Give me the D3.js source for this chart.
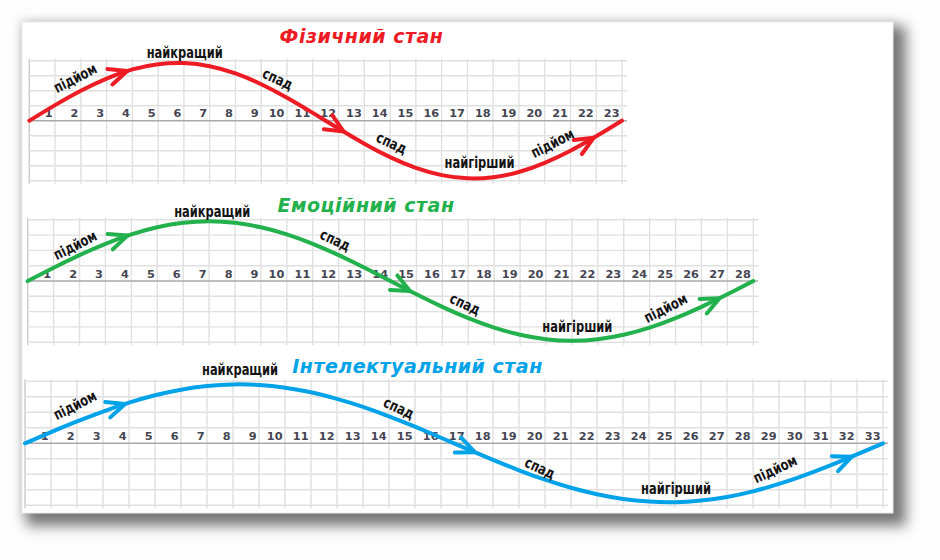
<!DOCTYPE html>
<html>
<head>
<meta charset="utf-8">
<script src="https://cdn.jsdelivr.net/npm/d3@7"></script>
<style>
  html, body { margin: 0; padding: 0; background: #fdfdfd; }
  svg { display: block; }
</style>
</head>
<body>
<svg id="chart" width="940" height="560"></svg>
<script>
// ---------- DATA ----------
const physTitle = "Фізичний стан";
const emoTitle = "Емоційний стан";
const intelTitle = "Інтелектуальний стан";

const physDays = [1,2,3,4,5,6,7,8,9,10,11,12,13,14,15,16,17,18,19,20,21,22,23];
const emoDays = [1,2,3,4,5,6,7,8,9,10,11,12,13,14,15,16,17,18,19,20,21,22,23,24,25,26,27,28];
const intelDays = [1,2,3,4,5,6,7,8,9,10,11,12,13,14,15,16,17,18,19,20,21,22,23,24,25,26,27,28,29,30,31,32,33];

// curve value at day 0..period (grid rows above / below the day axis)
const physValues = [0, 1.04, 2.00, 2.81, 3.42, 3.77, 3.84, 3.63, 3.15, 2.43, 1.53, 0.52,
  -0.52, -1.53, -2.43, -3.15, -3.63, -3.84, -3.77, -3.42, -2.81, -2.00, -1.04, 0];
const emoValues = [0, 0.87, 1.69, 2.43, 3.05, 3.51, 3.80, 3.90, 3.80, 3.51, 3.05, 2.43, 1.69, 0.87,
  0, -0.87, -1.69, -2.43, -3.05, -3.51, -3.80, -3.90, -3.80, -3.51, -3.05, -2.43, -1.69, -0.87, 0];
const intelValues = [0, 0.72, 1.41, 2.05, 2.62, 3.10, 3.46, 3.69, 3.80, 3.76, 3.59, 3.29, 2.87, 2.35, 1.74, 1.07, 0.36,
  -0.36, -1.07, -1.74, -2.35, -2.87, -3.29, -3.59, -3.76, -3.80, -3.69, -3.46, -3.10, -2.62, -2.05, -1.41, -0.72, 0];

// arrow heads (day where the arrow tip sits)
const physArrows = [3.8, 12.2, 21.9];
const emoArrows = [3.85, 14.75, 26.7];
const intelArrows = [3.85, 17.3, 31.8];

// annotations: text, day, value, angle
const physNotes = [
  ["підйом", 1.78, 2.85, -27], ["найкращий", 6.03, 4.5, 0], ["спад", 9.64, 2.78, 25],
  ["спад", 14.06, -1.49, 25], ["найгірший", 17.47, -2.82, 0], ["підйом", 20.3, -1.49, -27]
];
const emoNotes = [
  ["підйом", 1.83, 2.35, -27], ["найкращий", 7.12, 4.5, 0], ["спад", 11.87, 2.68, 25],
  ["спад", 16.88, -1.5, 25], ["найгірший", 21.21, -3.0, 0], ["підйом", 24.61, -1.76, -27]
];
const intelNotes = [
  ["підйом", 1.92, 2.47, -27], ["найкращий", 8.27, 4.73, 0], ["спад", 14.38, 2.28, 25],
  ["спад", 19.81, -1.59, 25], ["найгірший", 25.04, -2.95, 0], ["підйом", 28.85, -1.66, -25]
];

// ---------- LAYOUT ----------
const panels = [
  { title: physTitle, days: physDays, values: physValues, arrows: physArrows, notes: physNotes,
    color: "#ed1c24", x0: 29.3, x1: 622, axisY: 120.7, rowH: 15, titleX: 361.5, titleY: 43 },
  { title: emoTitle, days: emoDays, values: emoValues, arrows: emoArrows, notes: emoNotes,
    color: "#22b14c", x0: 27.7, x1: 753.3, axisY: 281, rowH: 15.3, titleX: 366, titleY: 211.5 },
  { title: intelTitle, days: intelDays, values: intelValues, arrows: intelArrows, notes: intelNotes,
    color: "#00a2e8", x0: 25, x1: 883, axisY: 443.3, rowH: 15.5, titleX: 417.5, titleY: 372.5 }
];

const svg = d3.select("#chart");
const defs = svg.append("defs");
const f = defs.append("filter").attr("id", "shadow").attr("x", "-10%").attr("y", "-10%")
  .attr("width", "120%").attr("height", "120%");
f.append("feGaussianBlur").attr("stdDeviation", 6.5);
const g2 = defs.append("filter").attr("id", "glow").attr("x", "-10%").attr("y", "-10%")
  .attr("width", "120%").attr("height", "120%");
g2.append("feGaussianBlur").attr("stdDeviation", 3);

// card with shadow
svg.append("rect").attr("x", 19).attr("y", 19).attr("width", 877).attr("height", 497)
  .attr("fill", "#d8d8d8").attr("opacity", 0.45).attr("filter", "url(#glow)");
svg.append("rect").attr("x", 26).attr("y", 26).attr("width", 880).attr("height", 500)
  .attr("fill", "#555555").attr("opacity", 0.78).attr("filter", "url(#shadow)");
svg.append("rect").attr("x", 22).attr("y", 22).attr("width", 871).attr("height", 491)
  .attr("fill", "#ffffff").attr("stroke", "#ececec").attr("stroke-width", 1);

panels.forEach(p => {
  const period = p.values.length - 1;
  const x = d3.scaleLinear().domain([0, period]).range([p.x0, p.x1]);
  const y = d3.scaleLinear().domain([-4, 4]).range([p.axisY + 4 * p.rowH, p.axisY - 4 * p.rowH]);
  const g = svg.append("g");

  // grid
  const vDays = [0].concat(p.days);
  g.append("g").selectAll("line").data(vDays).join("line")
    .attr("x1", d => x(d)).attr("x2", d => x(d))
    .attr("y1", y(4) - 2).attr("y2", y(-4) + 3)
    .attr("stroke", d => d === 0 ? "#c9c9c9" : "#e0e0e0").attr("stroke-width", 1.4);
  g.append("g").selectAll("line").data(y.ticks(8).filter(v => v !== 0)).join("line")
    .attr("x1", x(0) - 1).attr("x2", x(period) + 5)
    .attr("y1", d => y(d)).attr("y2", d => y(d))
    .attr("stroke", "#e0e0e0").attr("stroke-width", 1.4);

  // day axis
  const axis = d3.axisTop(x).tickValues(p.days).tickFormat(d3.format("d"))
    .tickSizeInner(0).tickSizeOuter(0).tickPadding(3.5);
  const ag = g.append("g").attr("transform", `translate(0,${y(0)})`).call(axis);
  ag.select(".domain").attr("stroke", "#a9a9a9").attr("stroke-width", 1.6)
    .attr("d", `M${x(0)},0H${x(period) + 5}`);
  ag.selectAll("text").attr("text-anchor", "end").attr("x", -3)
    .attr("fill", "#454552").attr("font-family", "DejaVu Sans").attr("font-weight", "bold")
    .attr("font-size", 11.3);

  // curve
  const line = d3.line().x((d, i) => x(i)).y(d => y(d)).curve(d3.curveNatural);
  const path = g.append("path").datum(p.values).attr("d", line)
    .attr("fill", "none").attr("stroke", p.color).attr("stroke-width", 4)
    .attr("stroke-linecap", "round");
  const node = path.node();
  const total = node.getTotalLength();
  function pointAtX(px) {
    let lo = 0, hi = total;
    for (let k = 0; k < 40; k++) {
      const mid = (lo + hi) / 2;
      if (node.getPointAtLength(mid).x < px) lo = mid; else hi = mid;
    }
    return (lo + hi) / 2;
  }

  // arrows
  p.arrows.forEach(day => {
    const L = pointAtX(x(day));
    const tip = node.getPointAtLength(L);
    const back = node.getPointAtLength(Math.max(0, L - 6));
    const ang = Math.atan2(back.y - tip.y, back.x - tip.x);
    const len = 20, spread = 24 * Math.PI / 180;
    const w1 = [tip.x + len * Math.cos(ang + spread), tip.y + len * Math.sin(ang + spread)];
    const w2 = [tip.x + len * Math.cos(ang - spread), tip.y + len * Math.sin(ang - spread)];
    g.append("path")
      .attr("d", `M${w1[0]},${w1[1]}L${tip.x},${tip.y}L${w2[0]},${w2[1]}`)
      .attr("fill", "none").attr("stroke", p.color).attr("stroke-width", 4)
      .attr("stroke-linecap", "round").attr("stroke-linejoin", "round");
  });

  // annotations
  g.append("g").selectAll("text").data(p.notes).join("text")
    .attr("transform", d => `translate(${x(d[1])},${y(d[2])}) rotate(${d[3]}) scale(0.85,1)`)
    .attr("text-anchor", "middle").attr("dy", "0.35em")
    .attr("font-family", "DejaVu Sans Condensed, DejaVu Sans").attr("font-weight", "bold")
    .attr("font-size", 15)
    .attr("fill", "#141414").text(d => d[0]);

  // title
  svg.append("text").attr("x", p.titleX).attr("y", p.titleY).attr("text-anchor", "middle")
    .attr("font-family", "DejaVu Sans").attr("font-weight", "bold").attr("font-style", "italic")
    .attr("font-size", 19).attr("letter-spacing", 0.5).attr("fill", p.color).text(p.title);
});
</script>
</body>
</html>
